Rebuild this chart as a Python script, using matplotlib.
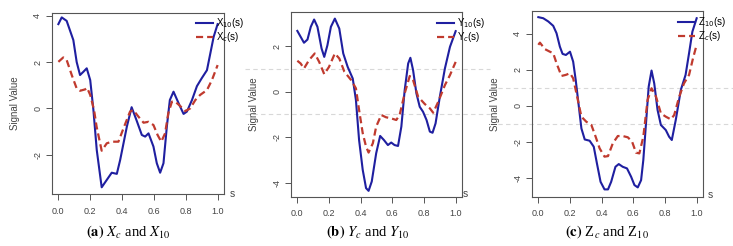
import matplotlib.pyplot as plt
from matplotlib.lines import Line2D

plt.rcParams['font.family'] = ['Liberation Sans', 'DejaVu Sans']

# panel (a): X10 (solid) and Xc (dashed)
s_x10 = [0.0, 0.021, 0.052, 0.094, 0.115, 0.136, 0.157, 0.178, 0.2, 0.22, 0.241, 0.272,
         0.304, 0.335, 0.367, 0.388, 0.43, 0.46, 0.49, 0.524, 0.545, 0.566, 0.597, 0.618,
         0.639, 0.66, 0.681, 0.70, 0.723, 0.755, 0.786, 0.807, 0.839, 0.87, 0.90, 0.933,
         0.954, 0.975, 1.0]
x10 = [3.64, 3.93, 3.78, 2.95, 2.0, 1.44, 1.58, 1.73, 1.22, -0.07, -1.8, -3.41,
       -3.09, -2.78, -2.83, -2.23, -0.79, 0.05, -0.5, -1.15, -1.22, -1.08, -1.65, -2.37,
       -2.78, -2.37, -0.79, 0.36, 0.72, 0.22, -0.24, -0.14, 0.36, 0.96, 1.3, 1.65,
       2.37, 3.09, 3.64]
s_xc = [0.0, 0.031, 0.052, 0.084, 0.115, 0.136, 0.168, 0.18, 0.2, 0.224, 0.24, 0.272,
        0.304, 0.335, 0.377, 0.409, 0.45, 0.47, 0.503, 0.535, 0.566, 0.597, 0.623, 0.646,
        0.67, 0.69, 0.713, 0.734, 0.765, 0.797, 0.828, 0.86, 0.89, 0.933, 0.964, 1.0]
xc = [2.01, 2.2, 2.09, 1.44, 0.86, 0.76, 0.82, 0.89, 0.58, -0.07, -0.79, -1.83,
      -1.51, -1.44, -1.44, -0.86, -0.14, -0.07, -0.36, -0.62, -0.58, -0.72, -1.15, -1.44,
      -1.08, -0.22, 0.29, 0.29, 0.1, -0.12, 0.0, 0.36, 0.58, 0.79, 1.22, 1.87]

# panel (b): Y10 (solid) and Yc (dashed)
s_y10 = [0.0, 0.021, 0.042, 0.064, 0.085, 0.106, 0.127, 0.153, 0.17, 0.19, 0.212, 0.237,
         0.265, 0.29, 0.318, 0.35, 0.37, 0.39, 0.413, 0.434, 0.45, 0.47, 0.498, 0.523,
         0.547, 0.572, 0.593, 0.614, 0.636, 0.657, 0.678, 0.70, 0.714, 0.731, 0.752, 0.773,
         0.794, 0.816, 0.837, 0.854, 0.873, 0.90, 0.932, 0.964, 1.0]
y10 = [2.67, 2.41, 2.15, 2.29, 2.85, 3.17, 2.85, 1.9, 1.53, 2.04, 2.85, 3.21,
       2.77, 1.68, 1.09, 0.58, -0.36, -2.12, -3.43, -4.23, -4.35, -3.94, -2.7, -1.94,
       -2.12, -2.34, -2.23, -2.34, -2.38, -1.53, 0.07, 1.24, 1.49, 0.95, -0.07, -0.66,
       -0.88, -1.24, -1.75, -1.8, -1.39, -0.22, 1.02, 1.97, 2.66]
s_yc = [0.0, 0.021, 0.042, 0.074, 0.11, 0.138, 0.17, 0.2, 0.237, 0.265, 0.297, 0.34,
        0.37, 0.39, 0.413, 0.434, 0.45, 0.477, 0.498, 0.53, 0.56, 0.593, 0.625, 0.646,
        0.678, 0.71, 0.731, 0.763, 0.805, 0.837, 0.858, 0.89, 0.932, 0.964, 1.0]
yc = [1.36, 1.24, 1.02, 1.39, 1.68, 1.31, 0.77, 1.09, 1.68, 1.46, 0.88, 0.51,
      0.15, -0.8, -1.82, -2.41, -2.67, -2.26, -1.53, -1.02, -1.12, -1.17, -1.24, -1.02,
      -0.07, 0.69, 0.51, -0.22, -0.54, -0.73, -0.92, -0.44, 0.29, 0.73, 1.31]

# panel (c): Z10 (solid) and Zc (dashed)
s_z10 = [0.0, 0.031, 0.063, 0.094, 0.115, 0.136, 0.153, 0.174, 0.2, 0.22, 0.236, 0.251,
         0.272, 0.293, 0.324, 0.35, 0.37, 0.393, 0.418, 0.44, 0.46, 0.487, 0.508, 0.533,
         0.56, 0.586, 0.607, 0.628, 0.649, 0.663, 0.68, 0.697, 0.715, 0.732, 0.753, 0.774,
         0.805, 0.826, 0.843, 0.868, 0.90, 0.93, 0.952, 0.973, 1.0]
z10 = [4.91, 4.85, 4.67, 4.43, 4.02, 3.28, 2.88, 2.82, 3.0, 2.45, 1.44, 0.33,
       -1.24, -1.85, -1.92, -2.25, -3.17, -4.19, -4.61, -4.61, -4.19, -3.36, -3.21, -3.36,
       -3.45, -3.91, -4.37, -4.5, -4.1, -2.99, -0.96, 1.07, 1.96, 1.25, -0.22, -1.05,
       -1.33, -1.7, -1.88, -0.77, 0.89, 1.72, 2.92, 4.11, 4.85]
s_zc = [0.0, 0.01, 0.042, 0.073, 0.094, 0.115, 0.146, 0.174, 0.2, 0.22, 0.245, 0.272,
        0.303, 0.335, 0.362, 0.387, 0.418, 0.44, 0.47, 0.502, 0.533, 0.565, 0.592, 0.617,
        0.638, 0.663, 0.69, 0.715, 0.743, 0.774, 0.805, 0.837, 0.858, 0.89, 0.92, 0.952,
        0.977, 1.0]
zc = [3.38, 3.5, 3.14, 3.0, 2.92, 2.36, 1.66, 1.72, 1.81, 1.53, 0.52, -0.59,
      -0.87, -1.05, -1.7, -2.34, -2.8, -2.77, -2.07, -1.66, -1.66, -1.73, -1.97, -2.58,
      -2.62, -1.7, 0.33, 0.98, 0.52, -0.41, -0.59, -0.74, -0.5, 0.52, 1.25, 1.72,
      2.64, 3.38]

xticks = [0.0, 0.2, 0.4, 0.6, 0.8, 1.0]
yticks_a = [-2, 0, 2, 4]
yticks_b = [-4, -2, 0, 2]
yticks_c = [-4, -2, 0, 2, 4]

W, H = 733, 246
fig = plt.figure(figsize=(W / 100, H / 100), dpi=100)

# faint dashed guide lines that show up in the background of the right panels
for x0, x1, yy in [(245, 490, 69), (245, 490, 114), (490, 733, 88), (490, 733, 124)]:
    fig.add_artist(Line2D([x0 / W, x1 / W], [1 - yy / H, 1 - yy / H], transform=fig.transFigure,
                          color='#d8d8d8', lw=0.8, ls=(0, (4, 3)), zorder=0))

blue = '#1f1fa0'
red = '#c03a2e'
grey = '#555555'

panels = [
    # box (left, top, right, bottom px), ylim, yticks, data, names, legend pos, caption
    ((52, 13, 224, 194), (-3.70, 4.12), yticks_a, (s_x10, x10, s_xc, xc),
     ('X$_{10}$(s)', 'X$_c$(s)'), (196, 16), 128, r'$\mathbf{(a)}$ $X_c$ and $X_{10}$', (232, 194)),
    ((291, 12, 462, 197), (-4.62, 3.50), yticks_b, (s_y10, y10, s_yc, yc),
     ('Y$_{10}$(s)', 'Y$_c$(s)'), (437, 16), 368, r'$\mathbf{(b)}$ $Y_c$ and $Y_{10}$', (465, 194)),
    ((532, 11, 703, 197), (-5.03, 5.25), yticks_c, (s_z10, z10, s_zc, zc),
     ('Z$_{10}$(s)', 'Z$_c$(s)'), (678, 15), 607, r'$\mathbf{(c)}$ Z$_c$ and Z$_{10}$', (710, 195)),
]

for box, ylim, yticks, data, names, legpos, capx, caption, spos in panels:
    l, t, r, b = box
    ax = fig.add_axes([l / W, 1 - b / H, (r - l) / W, (b - t) / H])
    ax.set_facecolor('none')
    s1, v1, s2, v2 = data
    ax.plot(s1, v1, color=blue, lw=1.5, label=names[0], solid_joinstyle='round')
    ax.plot(s2, v2, color=red, lw=1.6, ls=(0, (3.2, 1.8)), label=names[1])
    ax.set_xlim(-0.04, 1.04)
    ax.set_ylim(*ylim)
    ax.set_xticks(xticks)
    ax.set_xticklabels(['%.1f' % v for v in xticks])
    ax.set_yticks(yticks)
    ax.set_yticklabels([str(v) for v in yticks], rotation=90, va='center')
    ax.tick_params(length=4, width=0.7, color=grey, labelcolor='#444444', labelsize=6.5)
    ax.tick_params(axis='x', pad=5)
    ax.tick_params(axis='y', pad=3)
    for sp in ax.spines.values():
        sp.set_color(grey)
        sp.set_linewidth(0.8)
    ax.set_ylabel('Signal Value', fontsize=7, color='#444444')
    ax.yaxis.set_label_coords(-32 / (r - l), 0.5)
    ax.legend(loc='upper left', bbox_to_anchor=(legpos[0] / W, 1 - legpos[1] / H),
              bbox_transform=fig.transFigure, frameon=False, fontsize=7,
              handlelength=1.7, handletextpad=0.4, labelspacing=0.05,
              borderpad=0, borderaxespad=0)
    fig.text(spos[0] / W, 1 - spos[1] / H, 's', fontsize=7.5, color='#444444',
             ha='center', va='center')
    fig.text(capx / W, 1 - 232 / H, caption, fontsize=10.5, ha='center', va='center',
             family='Liberation Serif', math_fontfamily='stix')

fig.savefig('out.png', dpi=100)
